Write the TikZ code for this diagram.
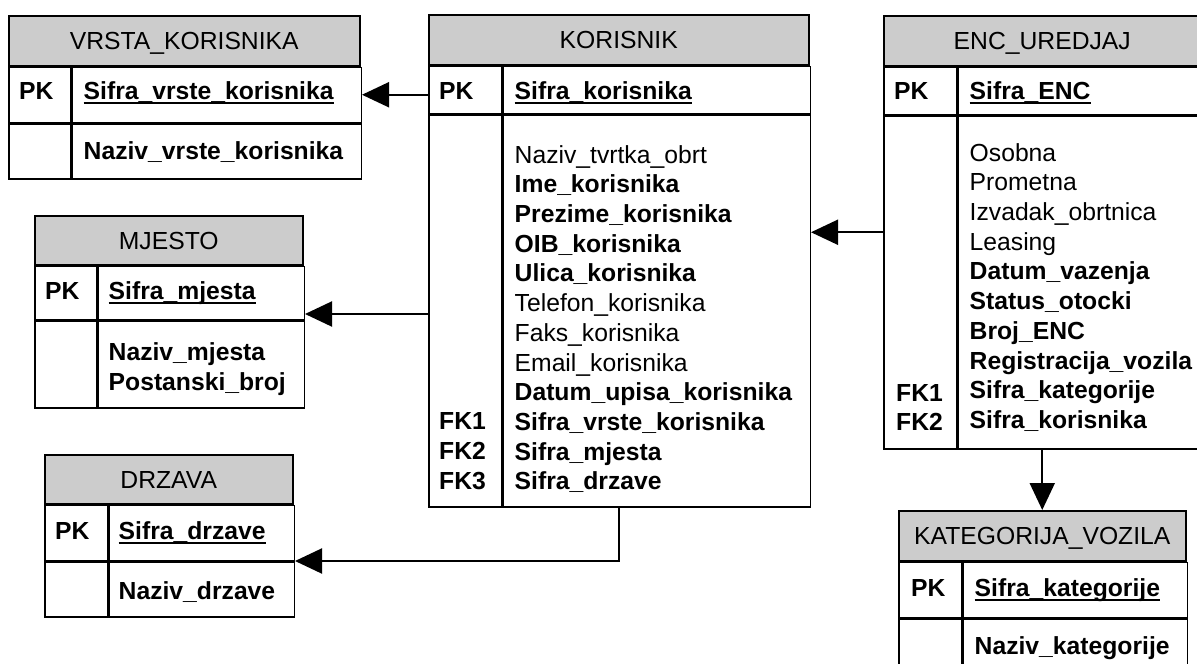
\documentclass[tikz,border=0pt]{standalone}
\usepackage{fontspec}
\setmainfont{Liberation Sans}
\usepackage{xcolor}
\usetikzlibrary{calc,arrows.meta}

\definecolor{headgray}{RGB}{204,204,204}
\newcommand{\pkline}[1]{\setbox0\hbox{\bfseries #1}\rlap{\rule[-4.3pt]{\wd0}{1.8pt}}\box0}

\tikzset{
  headbox/.style={draw, fill=headgray, line width=1.5pt, anchor=north west, inner sep=0pt,
    text height=17.7pt, text depth=0pt, minimum height=50pt},
  cellbox/.style={draw, line width=1.5pt, anchor=north west, inner sep=0pt},
  txt/.style={anchor=north west, inner sep=0pt, align=left},
  keytxt/.style={txt, font=\fontsize{24.7}{29.7}\selectfont\bfseries},
  fk/.style={line width=2pt, -{Triangle[length=27pt,width=25pt]}}
}

\begin{document}
\begin{tikzpicture}[x=1pt, y=-1pt, font=\fontsize{24.7}{29.7}\selectfont]
\path[fill=white, use as bounding box] (0,0) rectangle (1197,664);
\clip (0,0) rectangle (1197,664);

% VRSTA_KORISNIKA
\node[headbox, minimum width=351pt] (vrsta) at (8,15) {VRSTA\_KORISNIKA};
\node[cellbox, minimum width=62pt, minimum height=55pt] (vrsta-k1) at (vrsta.south west) {};
\node[cellbox, minimum width=289pt, minimum height=55pt] (vrsta-a1) at (vrsta-k1.north east) {};
\node[cellbox, minimum width=62pt, minimum height=55pt] (vrsta-k2) at (vrsta-k1.south west) {};
\node[cellbox, minimum width=289pt, minimum height=55pt] (vrsta-a2) at (vrsta-k2.north east) {};
\node[keytxt] (vrsta-pk) at ([shift={(11,12.5)}]vrsta-k1.north west) {\strut PK};
\node[txt] (vrsta-id) at ([shift={(12,12.5)}]vrsta-a1.north west) {\strut\pkline{Sifra\_vrste\_korisnika}};
\node[txt] (vrsta-attr) at ([shift={(12,15.9)}]vrsta-a2.north west) {\strut\textbf{Naziv\_vrste\_korisnika}};

% KORISNIK
\node[headbox, minimum width=380pt] (kor) at (428,14) {KORISNIK};
\node[cellbox, minimum width=73pt, minimum height=47pt] (kor-k1) at (kor.south west) {};
\node[cellbox, minimum width=307pt, minimum height=47pt] (kor-a1) at (kor-k1.north east) {};
\node[cellbox, minimum width=73pt, minimum height=392pt] (kor-k2) at (kor-k1.south west) {};
\node[cellbox, minimum width=307pt, minimum height=392pt] (kor-a2) at (kor-k2.north east) {};
\node[keytxt] (kor-pk) at ([shift={(11,13.5)}]kor-k1.north west) {\strut PK};
\node[txt] (kor-id) at ([shift={(12,13.5)}]kor-a1.north west) {\strut\pkline{Sifra\_korisnika}};
\node[txt] (kor-attr) at ([shift={(12,28.2)}]kor-a2.north west) {\strut Naziv\_tvrtka\_obrt\\
  \textbf{Ime\_korisnika}\\
  \textbf{Prezime\_korisnika}\\
  \textbf{OIB\_korisnika}\\
  \textbf{Ulica\_korisnika}\\
  Telefon\_korisnika\\
  Faks\_korisnika\\
  Email\_korisnika\\
  \textbf{Datum\_upisa\_korisnika}\\
  \textbf{Sifra\_vrste\_korisnika}\\
  \textbf{Sifra\_mjesta}\\
  \textbf{Sifra\_drzave}};
\node[keytxt] (kor-fk) at ([shift={(11,294.9)}]kor-k2.north west) {\strut FK1\\FK2\\FK3};

% ENC_UREDJAJ
\node[headbox, minimum width=317pt] (enc) at (883,15) {ENC\_UREDJAJ};
\node[cellbox, minimum width=73pt, minimum height=47pt] (enc-k1) at (enc.south west) {};
\node[cellbox, minimum width=244pt, minimum height=47pt] (enc-a1) at (enc-k1.north east) {};
\node[cellbox, minimum width=73pt, minimum height=333pt] (enc-k2) at (enc-k1.south west) {};
\node[cellbox, minimum width=244pt, minimum height=333pt] (enc-a2) at (enc-k2.north east) {};
\node[keytxt] (enc-pk) at ([shift={(11,12.5)}]enc-k1.north west) {\strut PK};
\node[txt] (enc-id) at ([shift={(12,12.5)}]enc-a1.north west) {\strut\pkline{Sifra\_ENC}};
\node[txt] (enc-attr) at ([shift={(12,25.2)}]enc-a2.north west) {\strut Osobna\\
  Prometna\\
  Izvadak\_obrtnica\\
  Leasing\\
  \textbf{Datum\_vazenja}\\
  \textbf{Status\_otocki}\\
  \textbf{Broj\_ENC}\\
  \textbf{Registracija\_vozila}\\
  \textbf{Sifra\_kategorije}\\
  \textbf{Sifra\_korisnika}};
\node[keytxt] (enc-fk) at ([shift={(13,265.2)}]enc-k2.north west) {\strut FK1\\FK2};

% MJESTO
\node[headbox, minimum width=268pt, minimum height=49pt] (mjesto) at (34,215) {MJESTO};
\node[cellbox, minimum width=62pt, minimum height=53pt] (mjesto-k1) at (mjesto.south west) {};
\node[cellbox, minimum width=206pt, minimum height=53pt] (mjesto-a1) at (mjesto-k1.north east) {};
\node[cellbox, minimum width=62pt, minimum height=87pt] (mjesto-k2) at (mjesto-k1.south west) {};
\node[cellbox, minimum width=206pt, minimum height=87pt] (mjesto-a2) at (mjesto-k2.north east) {};
\node[keytxt] (mjesto-pk) at ([shift={(11,13.5)}]mjesto-k1.north west) {\strut PK};
\node[txt] (mjesto-id) at ([shift={(11,13.5)}]mjesto-a1.north west) {\strut\pkline{Sifra\_mjesta}};
\node[txt] (mjesto-attr) at ([shift={(11,19.5)}]mjesto-a2.north west) {\strut\textbf{Naziv\_mjesta}\\
  \textbf{Postanski\_broj}};

% DRZAVA
\node[headbox, minimum width=248pt, minimum height=49pt] (drzava) at (44,454) {DRZAVA};
\node[cellbox, minimum width=63pt, minimum height=55pt] (drzava-k1) at (drzava.south west) {};
\node[cellbox, minimum width=185pt, minimum height=55pt] (drzava-a1) at (drzava-k1.north east) {};
\node[cellbox, minimum width=63pt, minimum height=55pt] (drzava-k2) at (drzava-k1.south west) {};
\node[cellbox, minimum width=185pt, minimum height=55pt] (drzava-a2) at (drzava-k2.north east) {};
\node[keytxt] (drzava-pk) at ([shift={(11,14.5)}]drzava-k1.north west) {\strut PK};
\node[txt] (drzava-id) at ([shift={(10,14.5)}]drzava-a1.north west) {\strut\pkline{Sifra\_drzave}};
\node[txt] (drzava-attr) at ([shift={(10,17.9)}]drzava-a2.north west) {\strut\textbf{Naziv\_drzave}};

% KATEGORIJA_VOZILA
\node[headbox, minimum width=287pt] (kat) at (898,510) {KATEGORIJA\_VOZILA};
\node[cellbox, minimum width=63pt, minimum height=55pt] (kat-k1) at (kat.south west) {};
\node[cellbox, minimum width=224pt, minimum height=55pt] (kat-a1) at (kat-k1.north east) {};
\node[cellbox, minimum width=63pt, minimum height=60pt] (kat-k2) at (kat-k1.south west) {};
\node[cellbox, minimum width=224pt, minimum height=60pt] (kat-a2) at (kat-k2.north east) {};
\node[keytxt] (kat-pk) at ([shift={(13,14.2)}]kat-k1.north west) {\strut PK};
\node[txt] (kat-id) at ([shift={(12,14.2)}]kat-a1.north west) {\strut\pkline{Sifra\_kategorije}};
\node[txt] (kat-attr) at ([shift={(12,15.9)}]kat-a2.north west) {\strut\textbf{Naziv\_kategorije}};

% relations
\coordinate (mjesto-in) at ([yshift=6pt]mjesto-a1.south east);
\coordinate (enc-mid) at ($(enc.north west)!.5!(enc-k2.south west)$);
\draw[fk] (kor-k1.west |- vrsta-a1.east) -- (vrsta-a1.east);
\draw[fk] (kor-k2.west |- mjesto-in) -- (mjesto-in);
\draw[fk] (kor.center |- kor-a2.south) |- (drzava-a1.south east);
\draw[fk] (enc-mid) -- (kor-a2.east |- enc-mid);
\draw[fk] (enc.center |- enc-a2.south) -- (kat.north);
\end{tikzpicture}
\end{document}
